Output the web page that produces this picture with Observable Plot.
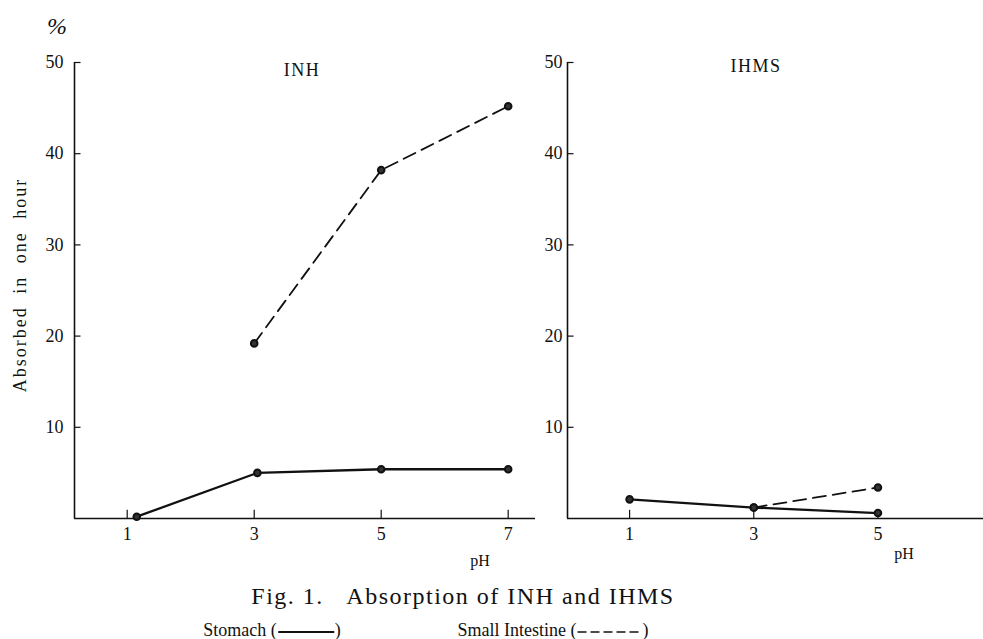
<!DOCTYPE html>
<html><head><meta charset="utf-8">
<script src="https://cdn.jsdelivr.net/npm/d3@7"></script>
<script src="https://cdn.jsdelivr.net/npm/@observablehq/plot@0.6"></script>
<style>
body{margin:0;background:#fff;}
#wrap{position:relative;width:983px;height:639px;overflow:hidden;font-family:'Liberation Serif','DejaVu Serif',serif;color:#111;}
.abs{position:absolute;white-space:nowrap;transform:translate(-50%,-50%);line-height:1;}
.panel{position:absolute;top:0;}
.panel svg text{font-family:'Liberation Serif','DejaVu Serif',serif;}
</style></head><body>
<div id="wrap"></div>
<script>
// ---- data ----
const inhStomachPH = [1.15, 3.05, 5, 7];
const inhStomach = [0.2, 5.0, 5.4, 5.4];
const inhIntestinePH = [3, 5, 7];
const inhIntestine = [19.2, 38.2, 45.2];
const ihmsStomachPH = [1, 3, 5];
const ihmsStomach = [2.1, 1.2, 0.6];
const ihmsIntestinePH = [3, 5];
const ihmsIntestine = [1.2, 3.4];
const yTicks = [10, 20, 30, 40, 50];
const inhXTicks = [1, 3, 5, 7];
const ihmsXTicks = [1, 3, 5];

const rows = (xs, ys) => xs.map((x, i) => ({x, y: ys[i]}));

function panel({stomach, intestine, xTicks, xDomain, width, marginLeft, marginRight, tickPadding}) {
  const x0 = xDomain[0];
  const pxPerUnit = (width - marginLeft - marginRight) / (xDomain[1] - xDomain[0]);
  return Plot.plot({
    width, height: 575, marginLeft, marginRight, marginTop: 62, marginBottom: 57,
    x: {domain: xDomain}, y: {domain: [0, 50]},
    style: {fontFamily: "'Liberation Serif', serif", fontSize: "18px", color: "#111", background: "transparent", overflow: "visible"},
    marks: [
      Plot.axisY({ticks: yTicks, tickSize: 0, tickPadding, tickFormat: d => String(d), label: null}),
      Plot.axisX({ticks: xTicks, tickSize: 0, tickPadding: 9, tickFormat: d => String(d), label: null}),
      Plot.ruleY(yTicks, {x1: x0, x2: x0 + 6.5 / pxPerUnit, stroke: "#111", strokeWidth: 1.2}),
      Plot.ruleX(xTicks, {y1: 0, y2: 0.9, stroke: "#111", strokeWidth: 1.2}),
      Plot.ruleX([x0], {y1: 0, y2: 50, stroke: "#111", strokeWidth: 1.6}),
      Plot.ruleY([0], {stroke: "#111", strokeWidth: 1.6}),
      Plot.line(intestine, {x: "x", y: "y", stroke: "#111", strokeWidth: 1.8, strokeDasharray: "13,7"}),
      Plot.line(stomach, {x: "x", y: "y", stroke: "#111", strokeWidth: 2.3}),
      Plot.dot([...stomach, ...intestine], {x: "x", y: "y", r: 3.3, fill: "#333", stroke: "#111", strokeWidth: 2})
    ]
  });
}

const wrap = document.getElementById("wrap");

const left = panel({
  stomach: rows(inhStomachPH, inhStomach),
  intestine: rows(inhIntestinePH, inhIntestine),
  xTicks: inhXTicks, xDomain: [0.17, 7.43],
  width: 545, marginLeft: 74, marginRight: 10, tickPadding: 11
});
const right = panel({
  stomach: rows(ihmsStomachPH, ihmsStomach),
  intestine: rows(ihmsIntestinePH, ihmsIntestine),
  xTicks: ihmsXTicks, xDomain: [0, 6.7],
  width: 463, marginLeft: 47, marginRight: 0, tickPadding: 5
});
const dl = document.createElement("div"); dl.className = "panel"; dl.style.left = "0px"; dl.appendChild(left); wrap.appendChild(dl);
const dr = document.createElement("div"); dr.className = "panel"; dr.style.left = "520px"; dr.appendChild(right); wrap.appendChild(dr);

function label(html, x, y, css = {}) {
  const d = document.createElement("div");
  d.className = "abs";
  d.innerHTML = html;
  d.style.left = x + "px"; d.style.top = y + "px";
  Object.assign(d.style, css);
  wrap.appendChild(d);
  return d;
}

label("%", 57, 26, {fontSize: "24px", fontStyle: "italic"});
label("INH", 302, 70, {fontSize: "18px", letterSpacing: "1.5px"});
label("IHMS", 756, 66, {fontSize: "18px", letterSpacing: "1.5px"});
label("pH", 480, 561, {fontSize: "16px"});
label("pH", 904, 554, {fontSize: "16px"});
label("Absorbed in one hour", 20, 285, {fontSize: "18px", letterSpacing: "2px", wordSpacing: "6px", transform: "translate(-50%,-50%) rotate(-90deg)"});

label("Fig. 1.&nbsp;&nbsp;&nbsp;Absorption of INH and IHMS", 463, 596, {fontSize: "24px", letterSpacing: "1.5px"});

label('Stomach (<svg width="58" height="10" style="vertical-align:middle"><line x1="1" x2="57" y1="5" y2="5" stroke="#111" stroke-width="2"/></svg>)', 272, 630, {fontSize: "18px"});
label('Small Intestine (<svg width="66" height="10" style="vertical-align:middle"><line x1="1" x2="65" y1="5" y2="5" stroke="#111" stroke-width="1.7" stroke-dasharray="9,4"/></svg>)', 553, 630, {fontSize: "18px"});
</script>
</body></html>
